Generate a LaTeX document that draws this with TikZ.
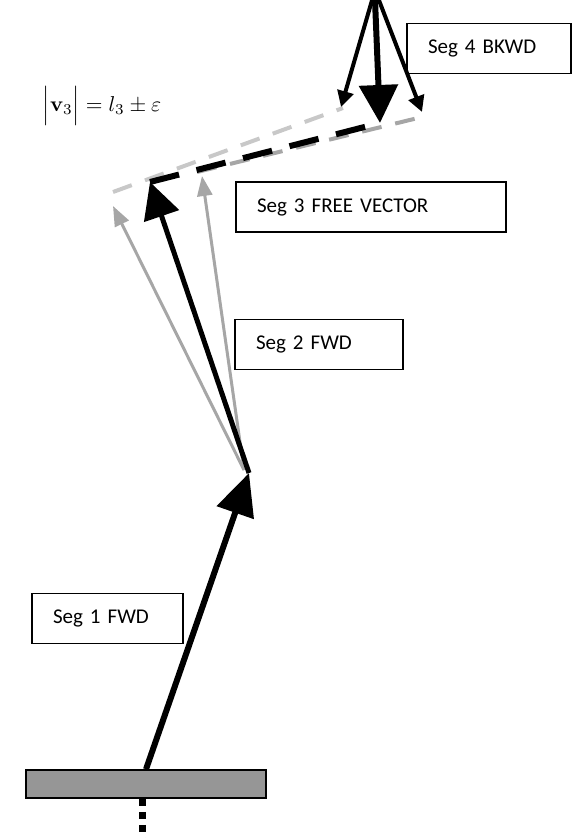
\documentclass[tikz,border=0pt]{standalone}
\usepackage[no-math]{fontspec}
\setmainfont{Carlito}
\usetikzlibrary{arrows.meta, positioning}
\definecolor{midgray}{HTML}{A6A6A6}
\definecolor{palegray}{HTML}{C8C8C8}
\definecolor{plategray}{HTML}{969696}

\tikzset{
  segbox/.style={draw, line width=1.6pt, inner xsep=21pt, minimum height=50pt, align=left},
  segdash/.style={line width=4pt, dash pattern=on 20pt off 14pt},
}

\begin{document}
\begin{tikzpicture}[x=1pt, y=-1pt, font=\fontsize{21}{25}\selectfont]
  \useasboundingbox (0,0) rectangle (572,838);

  % Podstava
  \node[draw, fill=plategray, line width=1.5pt, minimum width=240pt, minimum height=28pt, inner sep=0pt] (base) at (146,784) {};
  \coordinate (floor) at (142,838);
  \draw[line width=7pt, dash pattern=on 7pt off 6pt] ([xshift=-4pt]base.south) -- (floor);

  % Body
  \coordinate (j1) at (249,473);
  \coordinate (j1g) at (244,470);
  \coordinate (j2) at (150,182);
  \coordinate (j2l) at (113,206);
  \coordinate (j2r) at (202,176);
  \coordinate (j3) at (380,123);
  \coordinate (j3l) at (341,107);
  \coordinate (j3r) at (422,112);
  \coordinate (top) at (375,0);
  \coordinate (pl1) at (113,192);
  \coordinate (pl2) at (343,108);
  \coordinate (md1) at (197,172);
  \coordinate (md2) at (422,117);

  % Volny vektor
  \draw[segdash, palegray] (pl1) -- (pl2);
  \draw[segdash, midgray] (md1) -- (md2);
  \draw[line width=6pt, dash pattern=on 30pt off 18pt] (j2) -- (j3);

  % Seg 1
  \draw[line width=6pt, -{Triangle[length=42pt, width=38pt]}] (base.north) -- (j1);

  % Seg 2
  \draw[midgray, line width=3pt, -{Triangle[length=20pt, width=15pt]}] (j1g) -- (j2l);
  \draw[midgray, line width=3pt, -{Triangle[length=20pt, width=15pt]}] (j1g) -- (j2r);
  \draw[line width=5pt, -{Triangle[length=36pt, width=36pt]}] (j1) -- (j2);

  % Seg 4
  \draw[line width=4pt, -{Triangle[length=16pt, width=16pt]}] ([yshift=10pt]top) -- (j3l);
  \draw[line width=4pt, -{Triangle[length=16pt, width=16pt]}] ([yshift=10pt]top) -- (j3r);
  \draw[line width=6pt, -{Triangle[length=38pt, width=38pt]}] (top) -- (j3);

  % Popisky
  \node[segbox, text width=122pt] (lblFour) at (489,48.5) {Seg 4 BKWD};
  \node[segbox, text width=228pt] (lblThree) at (371,207) {Seg 3 FREE VECTOR};
  \node[segbox, text width=126pt] (lblTwo) at (319,344.5) {Seg 2 FWD};
  \node[segbox, text width=109pt] (lblOne) at (107.5,618.5) {Seg 1 FWD};
  \node[font=\normalsize, scale=2.15] (mag) at (102,106) {$\Bigl|\mathbf{v}_3\Bigr| = l_3 \pm \varepsilon$};
\end{tikzpicture}
\end{document}
